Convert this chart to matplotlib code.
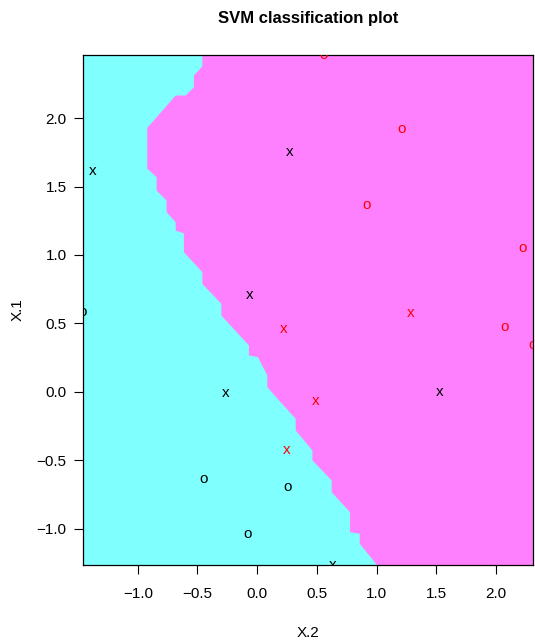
import matplotlib
matplotlib.use("Agg")
import matplotlib.pyplot as plt

plt.rcParams['font.family'] = ['Liberation Sans', 'DejaVu Sans']

# data points (X.2 horizontal, X.1 vertical)
x2 = [-1.375, 0.268, 0.553, 1.207, 0.914, 2.221, -0.067, 0.218, 1.282, 2.07,
      2.31, -1.46, -0.26, 0.486, 1.526, 0.251, -0.453, 0.251, -0.084, 0.629]
x1 = [1.613, 1.752, 2.46, 1.92, 1.365, 1.051, 0.708, 0.46, 0.577, 0.474,
      0.343, 0.584, -0.007, -0.066, 0.0, -0.423, -0.635, -0.693, -1.036, -1.263]
cls = [1, 1, 2, 2, 2, 2, 1, 2, 2, 2,
       2, 1, 1, 2, 1, 2, 1, 1, 1, 1]
is_sv = [1, 1, 0, 0, 0, 0, 1, 1, 1, 0,
         0, 0, 1, 1, 1, 1, 0, 0, 0, 1]

# decision boundary (X.2 at each X.1)
bound_x1 = [2.465, 2.380, 2.314, 2.228, 2.168, 2.168, 1.932, 1.633, 1.572, 1.474,
            1.401, 1.316, 1.243, 1.182, 1.161, 1.024, 0.878, 0.793, 0.647, 0.562,
            0.343, 0.270, 0.258, 0.124, 0.039, -0.058, -0.192, -0.277, -0.423, -0.496,
            -0.642, -0.728, -0.874, -1.020, -1.031, -1.104, -1.263]
bound_x2 = [-0.4635, -0.4635, -0.534, -0.534, -0.6035, -0.687, -0.9246, -0.9246, -0.8466, -0.8466,
            -0.763, -0.763, -0.687, -0.687, -0.618, -0.618, -0.4635, -0.4635, -0.304, -0.304,
            -0.073, -0.073, 0.0025, 0.081, 0.081, 0.179, 0.3185, 0.3185, 0.4585, 0.4585,
            0.620, 0.620, 0.774, 0.774, 0.855, 0.855, 1.003]

xmin, xmax = min(x2), max(x2)
ymin, ymax = min(x1), max(x1)

fig = plt.figure(figsize=(5.35, 6.44), dpi=100)
ax = fig.add_axes([0.155, 0.1227, 0.841, 0.7919])
ax.set_facecolor('#80FFFF')
ax.fill_betweenx(bound_x1, bound_x2, xmax + 1, color='#FF80FF', lw=0)

# x = support vector, o = other point; colour = class
colors = {1: 'black', 2: 'red'}
for a, b, c, s in zip(x2, x1, cls, is_sv):
    ax.text(a, b, 'x' if s else 'o', color=colors[c], fontsize=11,
            ha='center', va='center', clip_on=True)

ax.set_xlim(xmin, xmax)
ax.set_ylim(ymin, ymax)
ax.set_xticks([-1.0, -0.5, 0.0, 0.5, 1.0, 1.5, 2.0])
ax.set_yticks([-1.0, -0.5, 0.0, 0.5, 1.0, 1.5, 2.0])
ax.set_xticklabels(['\u22121.0', '\u22120.5', '0.0', '0.5', '1.0', '1.5', '2.0'])
ax.set_yticklabels(['\u22121.0', '\u22120.5', '0.0', '0.5', '1.0', '1.5', '2.0'])
ax.tick_params(axis='x', length=6.7, width=0.8, labelsize=11, pad=9)
ax.tick_params(axis='y', length=6.7, width=0.8, labelsize=11, pad=5)
for sp in ax.spines.values():
    sp.set_linewidth(0.9)

ax.set_xlabel('X.2', fontsize=11, labelpad=18)
ax.set_ylabel('X.1', fontsize=11, labelpad=9)
fig.text(0.576, 1 - 18 / 644, 'SVM classification plot', ha='center', va='center',
         fontsize=12, fontweight='bold')

fig.savefig('out.png', dpi=100)
